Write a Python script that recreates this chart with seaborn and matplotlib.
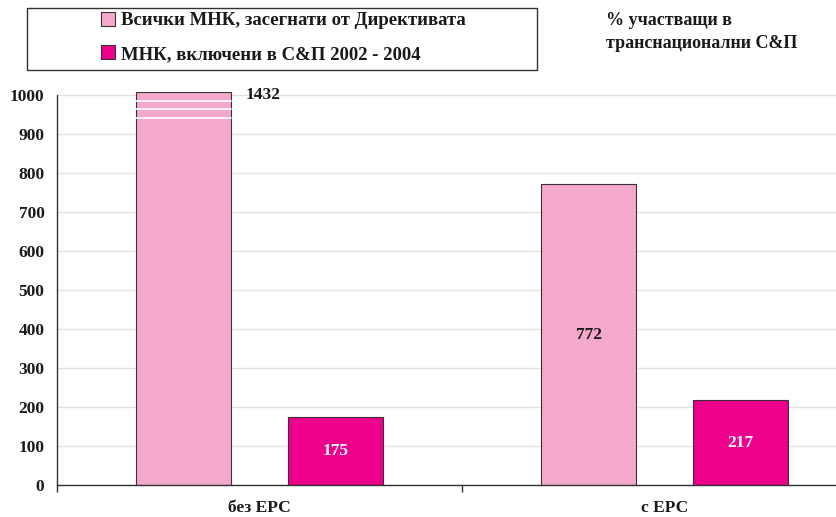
import matplotlib
matplotlib.use("Agg")
import matplotlib.pyplot as plt
import seaborn as sns
import pandas as pd
from matplotlib.patches import Patch, Rectangle

categories = ["без ЕРС", "с ЕРС"]
all_mnk = [1432, 772]
included_mnk = [175, 217]
series_names = ["Всички МНК, засегнати от Директивата",
                "МНК, включени в С&П 2002 - 2004"]
y_ticks = [0, 100, 200, 300, 400, 500, 600, 700, 800, 900, 1000]
y_max = 1000

sns.set_theme(style="white")
plt.rcParams["font.family"] = ["Liberation Serif", "DejaVu Serif"]
plt.rcParams["font.weight"] = "bold"

df = pd.DataFrame({
    "cat": categories * 2,
    "series": [series_names[0]] * 2 + [series_names[1]] * 2,
    "value": all_mnk + included_mnk,
})

colors = ["#F4A9CC", "#EC008C"]
text_col = "#1a1a1a"

W, H = 837, 517
fig = plt.figure(figsize=(W / 100, H / 100), dpi=100)
ax = fig.add_axes([57 / W, 32 / H, 810 / W, 393 / H])

sns.barplot(data=df, x="cat", y="value", hue="series", order=categories,
            hue_order=series_names, palette=colors, width=0.75, gap=0.373,
            edgecolor="#3a2f35", linewidth=0.8, ax=ax, legend=False,
            saturation=1)

ax.set_xlim(-0.5, 1.5)
ax.set_ylim(0, y_max * 1.008)
ax.set_yticks(y_ticks)
ax.set_yticklabels([str(t) for t in y_ticks], fontsize=12.5,
                   fontweight="bold", color=text_col)
ax.tick_params(axis="y", length=0, pad=9)
ax.yaxis.grid(True, color="#e3e3e3", linewidth=1)
ax.set_axisbelow(True)

# category labels under the axis, boundary ticks between categories
ax.set_xticks([0, 1])
ax.set_xticklabels(categories, fontsize=12.5, fontweight="bold",
                   color=text_col)
ax.tick_params(axis="x", which="major", length=0, pad=11)
ax.set_xticks([-0.5, 0.5, 1.5], minor=True)
ax.tick_params(axis="x", which="minor", length=5, width=1, color="#333333",
               direction="out", bottom=True)
ax.set_xlabel("")
ax.set_ylabel("")

for side in ["top", "right"]:
    ax.spines[side].set_visible(False)
for side in ["left", "bottom"]:
    ax.spines[side].set_color("#333333")
    ax.spines[side].set_linewidth(1)
ax.spines["left"].set_bounds(0, y_max)

# value labels
pink_bars = ax.containers[0]
mag_bars = ax.containers[1]
for bar, val in zip(pink_bars, all_mnk):
    x0 = bar.get_x()
    w = bar.get_width()
    if val > y_max:
        # bar runs off the scale: break marks and the value beside its top
        bar.set_height(y_max * 1.008)
        for frac in (0.985, 0.964, 0.941):
            ax.plot([x0, x0 + w], [frac * y_max] * 2, color="white",
                    linewidth=1.2, zorder=5)
        ax.text(x0 + w + 0.035, y_max, str(val), ha="left", va="center",
                fontsize=12.5, fontweight="bold", color=text_col,
                clip_on=False)
    else:
        ax.text(x0 + w / 2, val / 2, str(val), ha="center", va="center",
                fontsize=12.5, fontweight="bold", color=text_col)
for bar, val in zip(mag_bars, included_mnk):
    ax.text(bar.get_x() + bar.get_width() / 2, val / 2, str(val),
            ha="center", va="center", fontsize=12.5, fontweight="bold",
            color="white")

# legend: framed box across the top left, entries indented inside it
fig.patches.append(Rectangle((27 / W, 1 - 70 / H), 510 / W, 62 / H,
                             transform=fig.transFigure, facecolor="white",
                             edgecolor="#333333", linewidth=1, zorder=1))
handles = [Patch(facecolor=c, edgecolor="#333333", linewidth=0.8)
           for c in colors]
leg = fig.legend(handles, series_names, loc="upper left",
                 bbox_to_anchor=(101 / W, 1 - 12 / H), ncol=1,
                 frameon=False, prop={"size": 13.5, "weight": "bold"},
                 handlelength=0.75, handleheight=0.75, handletextpad=0.3,
                 borderpad=0, labelspacing=0.85, borderaxespad=0)
for t in leg.get_texts():
    t.set_color(text_col)

fig.text(606 / W, 1 - 12 / H, "% участващи в\nтранснационални С&П",
         ha="left", va="top", fontsize=13, fontweight="bold",
         color=text_col, linespacing=1.45)

fig.savefig("out.png", dpi=100)
